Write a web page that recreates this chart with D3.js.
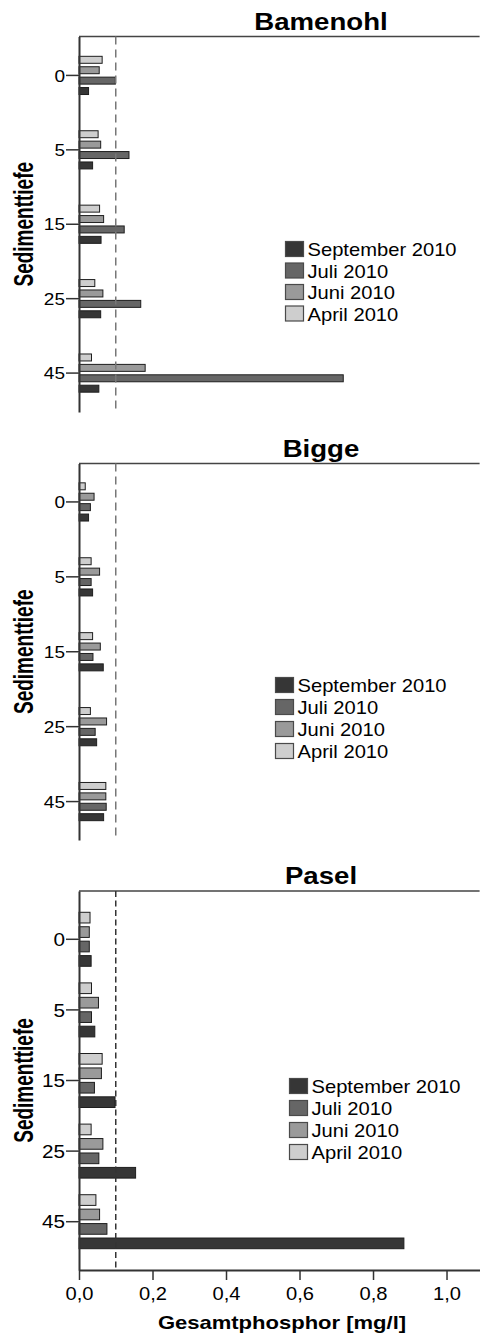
<!DOCTYPE html>
<html>
<head>
<meta charset="utf-8">
<script src="https://cdn.jsdelivr.net/npm/d3@7"></script>
<style>
    body { margin: 0; background: #fff; }
    svg { display: block; font-family: "Liberation Sans", Arial, sans-serif; }
</style>
</head>
<body>
<div id="chart"></div>
<script>
// categories / series
const depths = ["0", "5", "15", "25", "45"];
const seriesNames = ["April 2010", "Juni 2010", "Juli 2010", "September 2010"];
const seriesColors = ["#cecece", "#9a9a9a", "#666666", "#363636"];
const xTicks = [0, 0.2, 0.4, 0.6, 0.8, 1.0];
const refValue = 0.1;

// Gesamtphosphor [mg/l], one value per depth
const bamenohlApril = [0.063, 0.052, 0.056, 0.043, 0.034];
const bamenohlJuni = [0.055, 0.059, 0.067, 0.065, 0.180];
const bamenohlJuli = [0.099, 0.136, 0.123, 0.168, 0.719];
const bamenohlSeptember = [0.026, 0.037, 0.060, 0.059, 0.054];

const biggeApril = [0.017, 0.033, 0.037, 0.031, 0.073];
const biggeJuni = [0.041, 0.056, 0.058, 0.075, 0.073];
const biggeJuli = [0.031, 0.033, 0.038, 0.044, 0.074];
const biggeSeptember = [0.026, 0.037, 0.066, 0.048, 0.067];

const paselApril = [0.030, 0.034, 0.063, 0.033, 0.046];
const paselJuni = [0.028, 0.053, 0.061, 0.065, 0.056];
const paselJuli = [0.028, 0.034, 0.042, 0.054, 0.076];
const paselSeptember = [0.033, 0.043, 0.098, 0.154, 0.884];

const width = 480, height = 1336;

const svg = d3.select("#chart").append("svg")
    .attr("width", width)
    .attr("height", height);

const xScale = d3.scaleLinear()
    .domain([0, 1.09])
    .range([79, 479.6]);

const color = d3.scaleOrdinal()
    .domain(seriesNames)
    .range(seriesColors);

class PanelVis {
    constructor(svg, title, values, cfg) {
        this.svg = svg;
        this.title = title;
        this.values = values;
        this.cfg = cfg;

        this.initVis();
    }

    initVis() {
        const vis = this;
        const cfg = vis.cfg;

        vis.g = vis.svg.append("g").attr("class", "panel");

        vis.data = depths.map((depth, i) => ({
            depth: depth,
            bars: seriesNames.map((s, j) => ({ series: s, value: vis.values[j][i] }))
        }));

        vis.yScale = d3.scaleBand()
            .domain(depths)
            .range([cfg.top, cfg.bottom])
            .paddingInner(0)
            .paddingOuter(cfg.outerPad);

        vis.innerScale = d3.scaleBand()
            .domain(seriesNames)
            .range([-cfg.group / 2, cfg.group / 2])
            .paddingInner(cfg.innerPad);

        // title
        vis.g.append("text")
            .attr("transform", `translate(321, ${cfg.titleY}) scale(1.2, 1)`)
            .attr("text-anchor", "middle")
            .attr("font-weight", "bold")
            .attr("font-size", 23)
            .text(vis.title);

        // top frame line
        vis.g.append("line")
            .attr("x1", xScale(0)).attr("x2", xScale.range()[1])
            .attr("y1", cfg.top).attr("y2", cfg.top)
            .attr("stroke", "#444")
            .attr("stroke-width", 1.3);

        // bars
        const groups = vis.g.selectAll(".group")
            .data(vis.data)
            .enter()
            .append("g")
            .attr("class", "group")
            .attr("transform", d => `translate(0, ${vis.yScale(d.depth) + vis.yScale.bandwidth() / 2})`);

        groups.selectAll("rect")
            .data(d => d.bars)
            .enter()
            .append("rect")
            .attr("x", xScale(0))
            .attr("y", d => vis.innerScale(d.series))
            .attr("width", d => xScale(d.value) - xScale(0))
            .attr("height", vis.innerScale.bandwidth())
            .attr("fill", d => color(d.series))
            .attr("stroke", "#1e1e1e")
            .attr("stroke-width", 1);

        // reference line
        vis.g.append("line")
            .attr("x1", xScale(refValue)).attr("x2", xScale(refValue))
            .attr("y1", cfg.top).attr("y2", cfg.bottom)
            .attr("stroke", cfg.dashColor)
            .attr("stroke-width", 1.5)
            .attr("stroke-dasharray", cfg.dash);

        // y axis
        vis.yAxis = d3.axisLeft(vis.yScale)
            .tickSize(13)
            .tickSizeOuter(0);

        vis.yAxisGroup = vis.g.append("g")
            .attr("class", "y-axis axis")
            .attr("transform", `translate(${xScale(0)}, 0)`)
            .call(vis.yAxis);

        vis.yAxisGroup.select(".domain")
            .attr("stroke", "#333")
            .attr("stroke-width", 2);
        vis.yAxisGroup.selectAll(".tick line")
            .attr("stroke", "#333")
            .attr("stroke-width", 1.5);
        vis.yAxisGroup.selectAll(".tick text")
            .attr("x", 0)
            .attr("dy", "0.36em")
            .attr("transform", `translate(-14, 0) scale(1.12, 1)`)
            .attr("font-size", cfg.tickFont)
            .attr("font-family", "'Liberation Sans', Arial, sans-serif")
            .attr("fill", "#000");

        // y axis title
        vis.g.append("text")
            .attr("transform", `translate(32.5, ${(cfg.top + cfg.bottom) / 2}) rotate(-90) scale(1, 1.45)`)
            .attr("text-anchor", "middle")
            .attr("font-weight", "bold")
            .attr("font-size", 19)
            .text("Sedimenttiefe");

        // legend (September on top)
        const legend = vis.g.selectAll(".legend-item")
            .data(seriesNames.slice().reverse())
            .enter()
            .append("g")
            .attr("class", "legend-item")
            .attr("transform", (d, i) => `translate(${cfg.legendX}, ${cfg.legendY + i * cfg.legendStep})`);

        legend.append("rect")
            .attr("width", 18)
            .attr("height", 15)
            .attr("fill", d => color(d))
            .attr("stroke", "#4a4a4a")
            .attr("stroke-width", 1.2);

        legend.append("text")
            .attr("transform", "translate(22, 14.5) scale(1.12, 1)")
            .attr("font-size", 18)
            .text(d => d);

        if (cfg.showXAxis) {
            vis.xAxis = d3.axisBottom(xScale)
                .tickValues(xTicks)
                .tickSize(10)
                .tickSizeOuter(0)
                .tickFormat(d => d3.format(".1f")(d).replace(".", ","));

            vis.xAxisGroup = vis.g.append("g")
                .attr("class", "x-axis axis")
                .attr("transform", `translate(0, ${cfg.bottom})`)
                .call(vis.xAxis);

            vis.xAxisGroup.select(".domain")
                .attr("stroke", "#333")
                .attr("stroke-width", 2);
            vis.xAxisGroup.selectAll(".tick line")
                .attr("stroke", "#333")
                .attr("stroke-width", 1.5);
            vis.xAxisGroup.selectAll(".tick text")
                .attr("y", 0)
                .attr("dy", 0)
                .attr("transform", "translate(0, 30) scale(1.15, 1)")
                .attr("font-size", 17.5)
                .attr("font-family", "'Liberation Sans', Arial, sans-serif")
                .attr("fill", "#000");

            vis.g.append("text")
                .attr("transform", `translate(282, ${cfg.bottom + 59}) scale(1.19, 1)`)
                .attr("text-anchor", "middle")
                .attr("font-weight", "bold")
                .attr("font-size", 18.5)
                .text("Gesamtphosphor [mg/l]");
        }
    }
}

new PanelVis(svg, "Bamenohl",
    [bamenohlApril, bamenohlJuni, bamenohlJuli, bamenohlSeptember],
    { titleY: 30, top: 36.5, bottom: 412, outerPad: 0.023, group: 38.2, innerPad: 0.33,
      tickFont: 17, dash: "8,5", dashColor: "#777",
      legendX: 285.5, legendY: 241.5, legendStep: 21.5, showXAxis: false });

new PanelVis(svg, "Bigge",
    [biggeApril, biggeJuni, biggeJuli, biggeSeptember],
    { titleY: 456.5, top: 463.5, bottom: 840, outerPad: 0.013, group: 38.2, innerPad: 0.33,
      tickFont: 17, dash: "8,5", dashColor: "#777",
      legendX: 275.5, legendY: 677.5, legendStep: 22, showXAxis: false });

new PanelVis(svg, "Pasel",
    [paselApril, paselJuni, paselJuli, paselSeptember],
    { titleY: 884, top: 891, bottom: 1270, outerPad: 0.184, group: 54, innerPad: 0.26,
      tickFont: 18.5, dash: "6,3.5", dashColor: "#333",
      legendX: 289.5, legendY: 1078.5, legendStep: 22, showXAxis: true });
</script>
</body>
</html>
